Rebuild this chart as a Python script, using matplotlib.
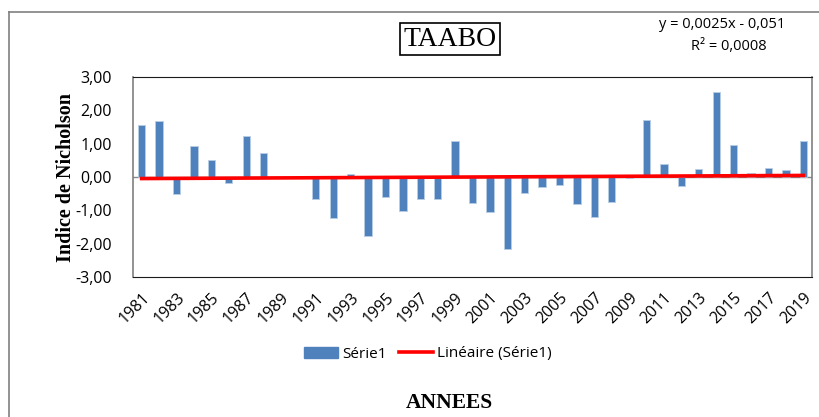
import numpy as np
import matplotlib.pyplot as plt
from matplotlib.lines import Line2D
from matplotlib.patches import Patch

# data
years = list(range(1981, 2020))
values = [1.56, 1.69, -0.50, 0.93, 0.51, -0.19, 1.23, 0.72, 0.00, 0.00,
          -0.66, -1.24, 0.10, -1.77, -0.59, -1.03, -0.66, -0.66, 1.08, -0.78,
          -1.05, -2.15, -0.47, -0.29, -0.23, -0.81, -1.19, -0.75, -0.04, 1.72,
          0.38, -0.26, 0.23, 2.54, 0.96, 0.13, 0.26, 0.20, 1.08]
yticks = [-3, -2, -1, 0, 1, 2, 3]
eq_text = "y = 0,0025x - 0,051"
r2_text = "R² = 0,0008"

sans = ['Open Sans', 'DejaVu Sans']
serif = ['Liberation Serif', 'DejaVu Serif']

fig = plt.figure(figsize=(8.19, 4.17), dpi=100)
ax = fig.add_axes([133/819, 1 - 277/417, (812-133)/819, 200/417])

x = np.arange(len(years))
ax.bar(x, values, width=0.42, color='#4F81BD', edgecolor='#B9CDE5', linewidth=0.6, zorder=2)

# linear trend (Excel "Linéaire")
coef = np.polyfit(x + 1, values, 1)
ax.plot(x, np.polyval(coef, x + 1), color='#FF0000', lw=2.6, zorder=3)

ax.axhline(0, color='#868686', lw=1, zorder=1)
ax.set_xlim(-0.5, len(years) - 0.5)
ax.set_ylim(-3, 3)
ax.set_yticks(yticks)
ax.set_yticklabels([("%.2f" % v).replace('.', ',') for v in yticks], family=sans, fontsize=11.5)
ax.set_xticks(x[::2])
ax.set_xticklabels([str(y) for y in years[::2]], rotation=45, ha='right',
                   rotation_mode='anchor', family=sans, fontsize=11.5)
ax.tick_params(axis='both', length=0)
ax.tick_params(axis='y', pad=15)
ax.tick_params(axis='x', pad=9)
for s in ['top', 'bottom']:
    ax.spines[s].set_color('#1a1a1a')
for s in ['left', 'right']:
    ax.spines[s].set_color('#808080')
    ax.spines[s].set_linewidth(1.2)

ax.set_ylabel('Indice de Nicholson', family=serif, fontweight='bold', fontsize=14.5, labelpad=0)

fig.text(450/819, 1 - 39/417, 'TAABO', family=serif, fontsize=20, ha='center', va='center',
         bbox=dict(boxstyle='square,pad=0.12', fc='white', ec='black', lw=1.2))
fig.text(722/819, 1 - 25/417, eq_text, family=sans, fontsize=10.5, ha='center', va='center')
fig.text(729/819, 1 - 47/417, r2_text, family=sans, fontsize=10.5, ha='center', va='center')
fig.text(449/819, 1 - 403/417, 'ANNEES', family=serif, fontweight='bold', fontsize=15.5,
         ha='center', va='center')

handles = [Patch(color='#4F81BD'), Line2D([], [], color='#FF0000', lw=2.6)]
fig.legend(handles, ['Série1', 'Linéaire (Série1)'], loc='center', bbox_to_anchor=(428/819, 1 - 354/417),
           ncol=2, frameon=False, prop={'family': sans, 'size': 11}, handlelength=2.2,
           columnspacing=0.8, handletextpad=0.3)

# outer chart frame
fig.add_artist(Line2D([9/819, 9/819], [0, 1 - 12/417], color='#808080', lw=1.2))
fig.add_artist(Line2D([9/819, 1], [1 - 12/417, 1 - 12/417], color='#808080', lw=1.2))

fig.savefig('out.png', dpi=100)
